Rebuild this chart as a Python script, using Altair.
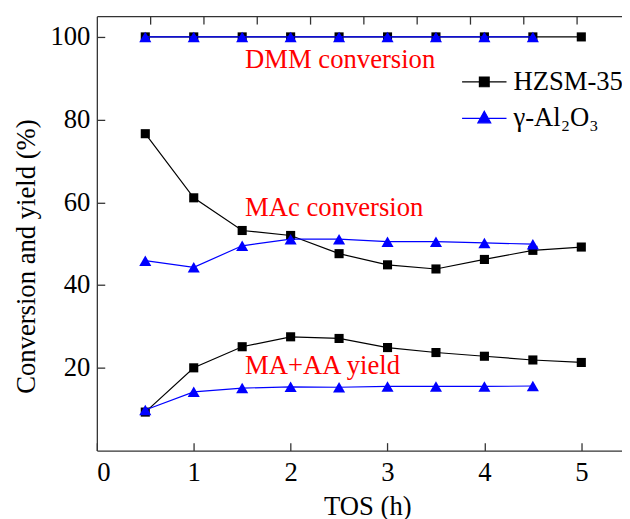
import altair as alt
import pandas as pd

# ---- data ----
TOS = [0.5, 1.0, 1.5, 2.0, 2.5, 3.0, 3.5, 4.0, 4.5, 5.0]
TOS_AL = [0.5, 1.0, 1.5, 2.0, 2.5, 3.0, 3.5, 4.0, 4.5]

HZ_DMM = [100, 100, 100, 100, 100, 100, 100, 100, 100, 100]
HZ_MAC = [76.6, 61.1, 53.2, 52.0, 47.6, 44.9, 43.9, 46.2, 48.4, 49.2]
HZ_YIELD = [9.3, 20.0, 25.1, 27.5, 27.1, 24.9, 23.7, 22.8, 21.9, 21.3]

AL_DMM = [100, 100, 100, 100, 100, 100, 100, 100, 100]
AL_MAC = [45.9, 44.3, 49.5, 51.1, 51.1, 50.5, 50.5, 50.2, 49.9]
AL_YIELD = [9.8, 14.2, 15.1, 15.4, 15.3, 15.5, 15.5, 15.5, 15.6]

SERIES = ["HZSM-35", "γ-Al₂O₃"]
COLORS = ["#000000", "#0000ff"]

ANN_TEXT = ["DMM conversion", "MAc conversion", "MA+AA yield"]
ANN_X = [1.53, 1.53, 1.53]
ANN_Y = [92.4, 56.8, 18.6]

X_TICKS = [0, 1, 2, 3, 4, 5]
Y_TICKS = [20, 40, 60, 80, 100]
TOP_TICKS = [0.55, 1.1, 1.65, 2.2, 2.75, 3.3, 3.85, 4.4, 4.95]

X_DOMAIN = [0, 5.42]
Y_DOMAIN = [0, 105]

FONT = "Liberation Serif"
FS = 27


def long_df(xs, groups, name):
    rows = []
    for gname, vals in groups:
        for x, v in zip(xs, vals):
            rows.append({"tos": x, "value": v, "group": gname, "series": name})
    return pd.DataFrame(rows)


hz = long_df(TOS, [("dmm", HZ_DMM), ("mac", HZ_MAC), ("yield", HZ_YIELD)], SERIES[0])
al = long_df(TOS_AL, [("dmm", AL_DMM), ("mac", AL_MAC), ("yield", AL_YIELD)], SERIES[1])
ann = pd.DataFrame({"text": ANN_TEXT, "x": ANN_X, "y": ANN_Y})
leg = pd.DataFrame({"series": SERIES})


def xs(axis=None):
    return alt.X("tos:Q", scale=alt.Scale(domain=X_DOMAIN, nice=False, zero=False), axis=axis)


def ys(axis=None):
    return alt.Y("value:Q", scale=alt.Scale(domain=Y_DOMAIN, nice=False, zero=False), axis=axis)


main_x_axis = alt.Axis(
    orient="bottom", values=X_TICKS, format="d", title="TOS (h)", domain=True, domainColor="#333333",
    domainWidth=1.3, ticks=False, tickSize=0, labelPadding=9, labelFont=FONT, labelFontSize=FS,
    labelColor="#000000", titleFont=FONT, titleFontSize=FS, titleFontWeight="normal", titleColor="#000000",
    titleX=274, titleY=65, titleBaseline="alphabetic", titleAlign="center", grid=False,
)
main_y_axis = alt.Axis(
    orient="left", values=Y_TICKS, format="d", title="Conversion and yield (%)", domain=True,
    domainColor="#333333", domainWidth=1.3, ticks=False, tickSize=0, labelPadding=7, labelFont=FONT,
    labelFontSize=FS, labelColor="#000000", titleFont=FONT, titleFontSize=FS, titleFontWeight="normal",
    titleColor="#000000", titleX=-63, titleY=243, titleAngle=270, titleBaseline="alphabetic",
    titleAlign="center", grid=False,
)
tick_x_axis = alt.Axis(orient="bottom", values=X_TICKS, offset=-8, tickSize=8, tickWidth=1.3,
                       tickColor="#333333", labels=False, domain=False, title=None, grid=False)
tick_y_axis = alt.Axis(orient="left", values=Y_TICKS, offset=-8, tickSize=8, tickWidth=1.3,
                       tickColor="#333333", labels=False, domain=False, title=None, grid=False)
top_dom_axis = alt.Axis(orient="top", domain=True, domainColor="#333333", domainWidth=1.3, ticks=False,
                        labels=False, title=None, grid=False, values=X_TICKS)
top_tick_axis = alt.Axis(orient="top", values=TOP_TICKS, offset=-8, tickSize=8, tickWidth=1.3,
                         tickColor="#333333", labels=False, domain=False, title=None, grid=False)

hz_line = alt.Chart(hz).mark_line(color=COLORS[0], strokeWidth=1.2).encode(
    x=xs(main_x_axis), y=ys(main_y_axis), detail="group:N", order="tos:Q")
hz_pts = alt.Chart(hz).mark_point(shape="square", filled=True, size=85, color=COLORS[0], opacity=1).encode(
    x=xs(), y=ys())
al_line = alt.Chart(al).mark_line(color=COLORS[1], strokeWidth=1.2).encode(
    x=xs(), y=ys(), detail="group:N", order="tos:Q")
al_pts = alt.Chart(al).mark_point(shape="triangle-up", filled=True, size=150, color=COLORS[1], opacity=1).encode(
    x=xs(), y=ys())

ticks_layer = alt.Chart(hz).mark_point(opacity=0).encode(x=xs(tick_x_axis), y=ys(tick_y_axis))
top_dom_layer = alt.Chart(hz).mark_point(opacity=0).encode(x=xs(top_dom_axis), y=ys())
top_tick_layer = alt.Chart(hz).mark_point(opacity=0).encode(x=xs(top_tick_axis), y=ys())

texts = alt.Chart(ann).mark_text(align="left", baseline="alphabetic", font=FONT, fontSize=FS,
                                 color="#ff0000").encode(
    x=alt.X("x:Q", scale=alt.Scale(domain=X_DOMAIN, nice=False, zero=False), axis=None),
    y=alt.Y("y:Q", scale=alt.Scale(domain=Y_DOMAIN, nice=False, zero=False), axis=None),
    text="text:N")

SHAPES = ["M-1,0H1M-0.22,-0.22H0.22V0.22H-0.22Z", "M-1,0H1M0,-0.32L0.29,0.2H-0.29Z"]
leg_layer = alt.Chart(leg).mark_point(opacity=0).encode(
    fill=alt.Fill("series:N", scale=alt.Scale(domain=SERIES, range=COLORS), legend=alt.Legend(title=None)),
    stroke=alt.Stroke("series:N", scale=alt.Scale(domain=SERIES, range=COLORS), legend=alt.Legend(title=None)),
    shape=alt.Shape("series:N", scale=alt.Scale(domain=SERIES, range=SHAPES), legend=alt.Legend(title=None)),
)

chart = alt.layer(
    ticks_layer, top_dom_layer, top_tick_layer, hz_line, hz_pts, al_line, al_pts, texts, leg_layer
).resolve_axis(x="independent", y="independent").properties(
    width=532, height=440,
    autosize=alt.AutoSizeParams(type="none"),
    padding={"left": 90, "top": 5, "right": 0, "bottom": 66},
).configure(font=FONT).configure_view(stroke=None).configure_axis(
    labelFont=FONT, titleFont=FONT
).configure_text(font=FONT).configure_legend(
    orient="none", legendX=369, legendY=43, padding=0, labelFont=FONT, labelFontSize=FS,
    labelColor="#000000", symbolSize=2025, symbolStrokeWidth=1.2, symbolOpacity=1, labelOffset=6,
    rowPadding=-2, labelLimit=0,
)

chart.save("out.html", embed_options={"renderer": "svg", "actions": False})
